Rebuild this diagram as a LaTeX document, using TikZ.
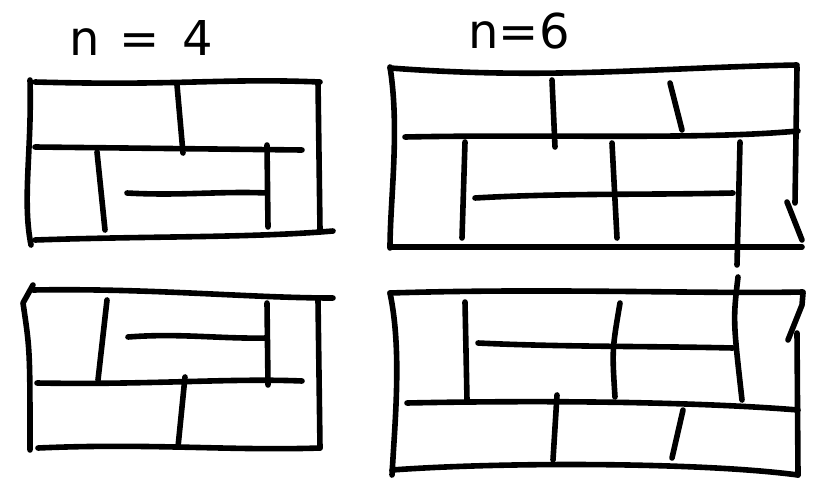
\documentclass[tikz,border=0pt]{standalone}
\usepackage{fontspec}
\setsansfont{DejaVu Sans}
\tikzset{
  pen/.style={draw=black, line width=5.6pt, line cap=round, line join=round},
  lbl/.style={font=\fontsize{48}{50}\selectfont\sffamily, inner sep=0pt},
}
\begin{document}
\begin{tikzpicture}[x=1pt,y=-1pt]
  \useasboundingbox (0,0) rectangle (824,495);
  % labels
  \node[lbl] (lblfour) at (141,38) {n\hspace{20pt}=\hspace{22pt}4};
  \node[lbl] (lblsix) at (519,31) {n=6};

  % n = 4, upper
  \draw[pen] (35,82) .. controls (180,86) and (220,78) .. (320,82);
  \draw[pen] (30,80) .. controls (32,150) and (22,200) .. (31,245);
  \draw[pen] (318,82) -- (320,230);
  \draw[pen] (35,240) .. controls (150,236) and (250,238) .. (333,231);
  \draw[pen] (35,147) -- (302,150);
  \draw[pen] (177,85) -- (183,153);
  \draw[pen] (97,152) -- (105,230);
  \draw[pen] (127,193) .. controls (180,196) and (220,191) .. (267,193);
  \draw[pen] (267,145) -- (268,227);

  % n = 6, upper
  \draw[pen] (390,68) .. controls (550,80) and (650,68) .. (797,65);
  \draw[pen] (390,67) .. controls (400,130) and (390,200) .. (390,248);
  \draw[pen] (797,67) -- (795,203);
  \draw[pen] (787,202) -- (802,240);
  \draw[pen] (390,247) -- (802,247);
  \draw[pen] (405,137) .. controls (550,134) and (700,140) .. (798,131);
  \draw[pen] (552,80) -- (555,147);
  \draw[pen] (670,83) -- (682,130);
  \draw[pen] (465,142) -- (462,238);
  \draw[pen] (612,143) -- (617,238);
  \draw[pen] (740,142) -- (737,265);
  \draw[pen] (475,198) .. controls (560,193) and (650,195) .. (733,193);

  % n = 4, lower
  \draw[pen] (33,290) .. controls (150,288) and (250,298) .. (333,298);
  \draw[pen] (33,285) -- (23,303) .. controls (30,350) .. (30,450);
  \draw[pen] (318,300) -- (320,448);
  \draw[pen] (38,448) .. controls (150,443) and (230,451) .. (320,448);
  \draw[pen] (37,383) .. controls (150,385) and (230,378) .. (302,381);
  \draw[pen] (185,377) -- (178,447);
  \draw[pen] (107,300) -- (98,380);
  \draw[pen] (128,337) .. controls (180,333) and (220,339) .. (267,338);
  \draw[pen] (267,303) -- (268,385);

  % n = 6, lower
  \draw[pen] (390,293) .. controls (550,288) and (700,294) .. (803,292);
  \draw[pen] (390,293) .. controls (402,350) and (395,420) .. (392,475);
  \draw[pen] (803,293) -- (802,305) -- (788,340);
  \draw[pen] (797,333) -- (798,475);
  \draw[pen] (392,470) .. controls (500,462) and (700,462) .. (798,475);
  \draw[pen] (407,403) .. controls (550,400) and (700,402) .. (798,410);
  \draw[pen] (557,395) -- (553,460);
  \draw[pen] (683,410) -- (672,458);
  \draw[pen] (465,302) -- (467,400);
  \draw[pen] (620,303) .. controls (612,350) .. (615,397);
  \draw[pen] (738,277) .. controls (733,320) .. (742,400);
  \draw[pen] (478,343) .. controls (560,347) and (650,346) .. (733,348);
\end{tikzpicture}
\end{document}
